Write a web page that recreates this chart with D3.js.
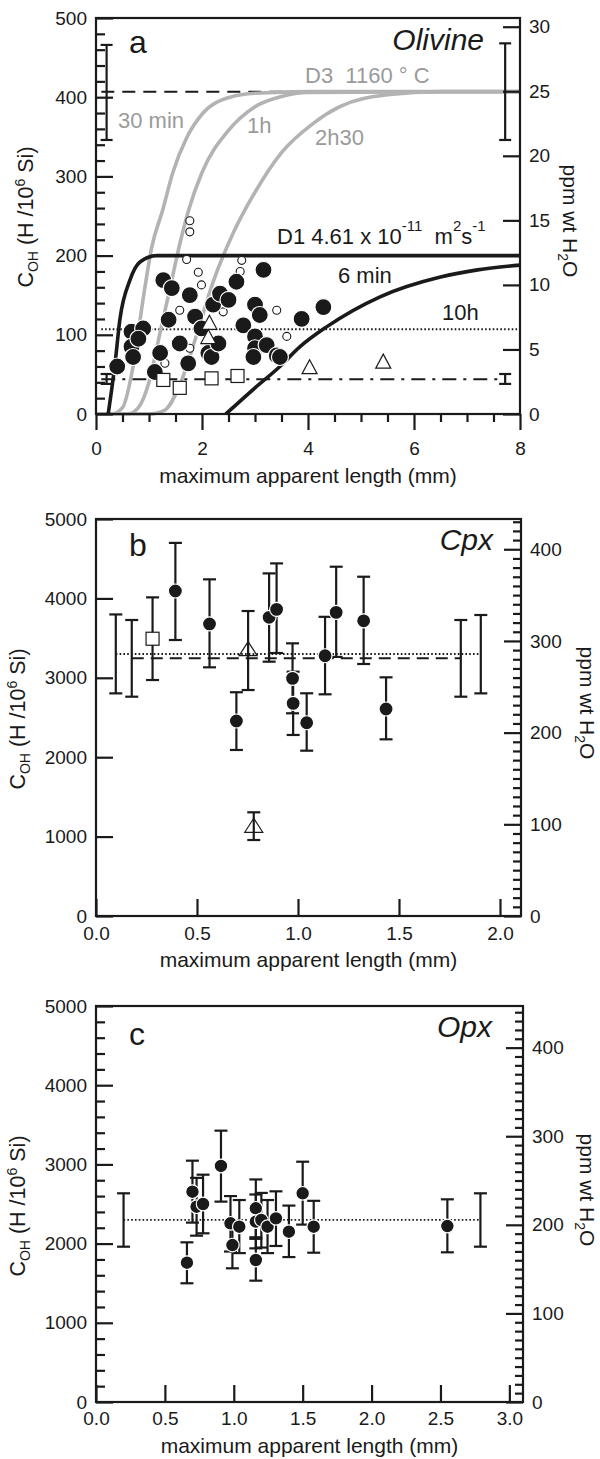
<!DOCTYPE html>
<html><head><meta charset="utf-8">
<script src="https://cdn.jsdelivr.net/npm/d3@7"></script>
<style>
body{margin:0;background:#fff}
svg text{font-family:"Liberation Sans",Arial,Helvetica,sans-serif;fill:#1a1a1a;white-space:pre}
</style>
</head><body>
<svg id="c" width="600" height="1459"></svg>
<script>
// ---------- DATA ----------
// Panel a (Olivine): [length mm, C_OH]
const olFilled = [[0.40,60],[0.67,104],[0.89,108],[0.67,85],[0.70,72],[0.80,95],
 [1.27,169],[1.43,159],[1.37,119],[1.21,77],[1.11,53],[1.77,150],[1.58,89],[1.74,64],
 [1.87,123],[1.99,108],[2.21,138],[2.34,152],[2.50,144],[2.65,167],[2.12,77],[2.18,72],
 [2.31,89],[2.78,112],[3.0,138],[3.16,182],[3.09,125],[3.0,98],[3.0,83],[3.22,87],
 [2.97,72],[3.41,74],[3.88,120],[4.29,135],[3.47,72]];
const olOpenSmall = [[1.77,244],[1.77,230],[1.71,195],[1.93,179],[1.99,163],[1.58,131],
 [2.40,129],[2.75,194],[2.72,180],[3.41,131],[3.6,98],[1.30,64],[1.77,83]];
const olTriangles = [[2.14,114],[2.12,96],[4.03,58],[5.42,65]];
const olSquares = [[1.27,43],[1.58,33],[2.18,45],[2.67,48]];
const curve30min = [[0,0],[0.3,0],[0.5,8],[0.7,60],[0.9,150],[1.05,210],[1.26,258],[1.45,305],[1.72,350],[2.02,380],[2.53,400],[3.0,405],[4,407],[8,407]];
const curve1h = [[0,0],[0.6,0],[0.8,8],[1.0,40],[1.2,100],[1.4,160],[1.6,220],[1.75,258],[2.0,305],[2.5,358],[3.0,388],[3.5,401],[4.0,406],[8,407]];
const curve2h30 = [[0,0],[1.0,0],[1.3,5],[1.6,40],[1.9,100],[2.2,165],[2.6,230],[3.0,280],[3.5,330],[4.1,367],[4.6,388],[5.5,403],[6.5,407],[8,407]];
const curve6min = [[0.23,0],[0.36,64],[0.45,119],[0.64,169],[0.83,192],[1.15,200],[8,200]];
const curve10h = [[2.45,0],[3.0,33],[3.47,60],[3.85,85],[4.35,110],[5.36,148],[6.5,173],[7.2,182],[8,188]];
const olDashedLevel = 407, olDottedLevel = 107, olDashDotLevel = 44;
const olBars = [[0.2,346,466],[7.72,346,468],[0.2,38,50.5],[7.72,38,50.5]];

// Panel b (Cpx): [length, C_OH, low, high]
const cpxFilled = [[0.393,4093,3476,4699],[0.562,3678,3132,4240],[0.695,2456,2091,2818],
 [0.857,3762,3203,4315],[0.894,3862,3312,4441],[0.973,2993,2553,3434],[0.976,2678,2280,3077],
 [1.043,2434,2082,2805],[1.134,3278,2792,3768],[1.189,3824,3263,4399],[1.325,3718,3174,4273],
 [1.436,2607,2225,3006]];
const cpxSquares = [[0.28,3492,2972,4013]];
const cpxTriangles = [[0.753,3350,2846,3841],[0.781,1125,957,1306]];
const cpxDotted = 3300, cpxDashed = 3245;
const cpxBars = [[0.098,2804,3798],[0.177,2762,3728],[1.806,2762,3728],[1.905,2804,3791]];

// Panel c (Opx)
const opxFilled = [[0.66,1759,1499,2016],[0.70,2655,2265,3047],[0.73,2466,2100,2830],
 [0.777,2500,2130,2870],[0.907,2980,2530,3426],[0.976,2256,1900,2600],[0.99,1982,1688,2280],
 [1.04,2213,1880,2550],[1.16,2446,2080,2810],[1.16,2277,1940,2620],[1.2,2298,1950,2640],
 [1.16,1793,1532,2060],[1.245,2213,1880,2550],[1.306,2319,1970,2660],[1.40,2150,1830,2480],
 [1.50,2635,2240,3034],[1.58,2213,1885,2540],[2.55,2222,1890,2559]];
const opxDotted = 2300;
const opxBars = [[0.2,1961,2635],[2.79,1961,2635]];

// Tick values
const aXTicks = [0,2,4,6,8], aYTicks = [0,100,200,300,400,500], aRTicks = [0,5,10,15,20,25,30];
const bXTicks = [0,0.5,1.0,1.5,2.0], bYTicks = [0,1000,2000,3000,4000,5000], bRTicks = [0,100,200,300,400];
const cXTicks = [0,0.5,1.0,1.5,2.0,2.5,3.0], cYTicks = [0,1000,2000,3000,4000,5000], cRTicks = [0,100,200,300,400];

// ---------- DRAW ----------
const svg = d3.select("#c");
const GRAY = "#b3b3b3", GRAYTXT = "#9a9a9a", BLK = "#1a1a1a";
const TICKFS = "19px";

function frame(x, y) {
  svg.append("rect").attr("x", x.range()[0]).attr("y", y.range()[1])
    .attr("width", x.range()[1]-x.range()[0]).attr("height", y.range()[0]-y.range()[1])
    .attr("fill","none").attr("stroke",BLK).attr("stroke-width",2.2);
}
function styleAxis(g){
  g.select(".domain").remove();
  g.selectAll(".tick line").attr("stroke",BLK).attr("stroke-width",2.2);
  g.selectAll(".tick text").style("font-size",TICKFS).attr("fill",BLK);
}
function axes(x, y, yR, o){
  const x0=x.range()[0], x1=x.range()[1], y0=y.range()[0];
  svg.append("g").attr("transform",`translate(${x0},0)`)
    .call(d3.axisLeft(y).tickValues(o.yTicks).tickSize(-17).tickPadding(9).tickSizeOuter(0).tickFormat(d3.format("d")))
    .call(styleAxis);
  if (o.yMinor) svg.append("g").attr("transform",`translate(${x0},0)`)
    .call(d3.axisLeft(y).tickValues(o.yMinor).tickSize(-9).tickFormat("")).call(styleAxis);
  svg.append("g").attr("transform",`translate(${x1},0)`)
    .call(d3.axisRight(yR).tickValues(o.rTicks).tickSize(-17).tickPadding(9).tickFormat(d3.format("d")))
    .call(styleAxis);
  if (o.rMinor) svg.append("g").attr("transform",`translate(${x1},0)`)
    .call(d3.axisRight(yR).tickValues(o.rMinor).tickSize(-8).tickFormat("")).call(styleAxis);
  svg.append("g").attr("transform",`translate(0,${y0})`)
    .call(d3.axisBottom(x).tickValues(o.xTicks).tickSize(o.xTickSize).tickPadding(o.xPad).tickFormat(o.xFmt))
    .call(styleAxis);
  if (o.xMinor) svg.append("g").attr("transform",`translate(0,${y0})`)
    .call(d3.axisBottom(x).tickValues(o.xMinor).tickSize(o.xMinorSize).tickFormat("")).call(styleAxis);
  frame(x,y);
}
function xTitle(x, yPos){
  svg.append("text").attr("x",(x.range()[0]+x.range()[1])/2).attr("y",yPos)
    .attr("text-anchor","middle").style("font-size","21px").text("maximum apparent length (mm)");
}
function yTitle(xPos, yPos){
  const t = svg.append("text").attr("transform",`translate(${xPos},${yPos}) rotate(-90)`)
    .attr("text-anchor","middle").style("font-size","21.5px");
  t.append("tspan").text("C");
  t.append("tspan").text("OH").style("font-size","14px").attr("dy",5);
  t.append("tspan").text(" (H /10").attr("dy",-5);
  t.append("tspan").text("6").style("font-size","14px").attr("dy",-8);
  t.append("tspan").text(" Si)").attr("dy",8);
}
function rTitle(xPos, yPos){
  const t = svg.append("text").attr("transform",`translate(${xPos},${yPos}) rotate(90)`)
    .attr("text-anchor","middle").style("font-size","21px");
  t.append("tspan").text("ppm wt H");
  t.append("tspan").text("2").style("font-size","14px").attr("dy",5);
  t.append("tspan").text("O").attr("dy",-5);
}
function hline(x, y, x0v, x1v, yv, dash, w){
  svg.append("line").attr("x1",x(x0v)).attr("x2",x(x1v)).attr("y1",y(yv)).attr("y2",y(yv))
    .attr("stroke",BLK).attr("stroke-width",w||2).attr("stroke-dasharray",dash);
}
function errBars(x, y, data, cap){
  const g = svg.append("g").attr("stroke",BLK).attr("stroke-width",2.2);
  data.forEach(d=>{
    const xv=d[0], lo=d[d.length-2], hi=d[d.length-1];
    g.append("line").attr("x1",x(xv)).attr("x2",x(xv)).attr("y1",y(lo)).attr("y2",y(hi));
    g.append("line").attr("x1",x(xv)-cap).attr("x2",x(xv)+cap).attr("y1",y(lo)).attr("y2",y(lo));
    g.append("line").attr("x1",x(xv)-cap).attr("x2",x(xv)+cap).attr("y1",y(hi)).attr("y2",y(hi));
  });
}
function filled(x,y,data,r){
  svg.append("g").selectAll("circle").data(data).join("circle")
    .attr("cx",d=>x(d[0])).attr("cy",d=>y(d[1])).attr("r",r)
    .attr("fill",BLK).attr("stroke","#fff").attr("stroke-width",1.2);
}
function openCircles(x,y,data,r){
  svg.append("g").selectAll("circle").data(data).join("circle")
    .attr("cx",d=>x(d[0])).attr("cy",d=>y(d[1])).attr("r",r)
    .attr("fill","#fff").attr("stroke",BLK).attr("stroke-width",1.1);
}
function triangles(x,y,data,w,h,fill){
  svg.append("g").selectAll("path").data(data).join("path")
    .attr("d",d=>{const cx=x(d[0]), cy=y(d[1]); return `M${cx},${cy-h*0.6}L${cx+w/2},${cy+h*0.4}L${cx-w/2},${cy+h*0.4}Z`;})
    .attr("fill",fill||"#fff").attr("stroke",BLK).attr("stroke-width",1.2);
}
function squares(x,y,data,s){
  svg.append("g").selectAll("rect").data(data).join("rect")
    .attr("x",d=>x(d[0])-s/2).attr("y",d=>y(d[1])-s/2).attr("width",s).attr("height",s)
    .attr("fill","#fff").attr("stroke",BLK).attr("stroke-width",1.2);
}
function label(xp, yp, txt, size, opts={}){
  const t = svg.append("text").attr("x",xp).attr("y",yp).style("font-size",size).text(txt);
  if (opts.italic) t.style("font-style","italic");
  if (opts.fill) t.attr("fill",opts.fill).style("fill",opts.fill);
  if (opts.anchor) t.attr("text-anchor",opts.anchor);
  return t;
}

// ===== Panel a =====
{
  const x = d3.scaleLinear().domain([0,8]).range([96,520]);
  const y = d3.scaleLinear().domain([0,500]).range([414,18]);
  const yR = d3.scaleLinear().domain([0,500/16.3]).range([414,18]);
  const line = d3.line().x(d=>x(d[0])).y(d=>y(d[1])).curve(d3.curveMonotoneX);

  hline(x,y,0.1,7.72,olDashedLevel,"13,8",2);
  hline(x,y,0.1,8,olDottedLevel,"1.6,2.2",1.8);
  hline(x,y,0.1,7.72,olDashDotLevel,"14,7,3,7",2);

  [curve30min,curve1h,curve2h30].forEach(c=>{
    svg.append("path").attr("d",line(c)).attr("fill","none").attr("stroke",GRAY).attr("stroke-width",3.6);
  });
  [curve6min,curve10h].forEach(c=>{
    svg.append("path").attr("d",line(c)).attr("fill","none").attr("stroke",BLK).attr("stroke-width",3.6);
  });
  errBars(x,y,olBars,6);
  openCircles(x,y,olOpenSmall,4);
  filled(x,y,olFilled,8.5);
  triangles(x,y,olTriangles,15,14);
  squares(x,y,olSquares,13);

  const minorY = d3.range(0,501,20).filter(v=>v%100!==0);
  const minorX = d3.range(0,8.01,0.5).filter(v=>v%2!==0);
  axes(x,y,yR,{yTicks:aYTicks,yMinor:minorY,rTicks:aRTicks,xTicks:aXTicks,xTickSize:16,xPad:12,
    xFmt:d3.format("d"),xMinor:minorX,xMinorSize:8});
  xTitle(x,483);
  yTitle(33,217);
  rTitle(563,221);

  label(129,53,"a","32px");
  label(484,50,"Olivine","30px",{italic:true,anchor:"end"});
  label(305,83,"D3  1160 ° C","22px",{fill:GRAYTXT});
  label(118,128,"30 min","22px",{fill:GRAYTXT});
  label(247,133,"1h","22px",{fill:GRAYTXT});
  label(315,145,"2h30","22px",{fill:GRAYTXT});
  const d1 = svg.append("text").attr("x",277).attr("y",244).style("font-size","22px");
  d1.append("tspan").text("D1 4.61 x 10");
  d1.append("tspan").text("-11").style("font-size","15px").attr("dy",-13);
  d1.append("tspan").text("  m").attr("dy",13);
  d1.append("tspan").text("2").style("font-size","15px").attr("dy",-13);
  d1.append("tspan").text("s").attr("dy",13);
  d1.append("tspan").text("-1").style("font-size","15px").attr("dy",-13);
  label(338,283,"6 min","22px");
  label(442,320,"10h","22px");
}

// ===== Panel b =====
{
  const x = d3.scaleLinear().domain([0,2.104]).range([96,521]);
  const y = d3.scaleLinear().domain([0,5000]).range([916,519]);
  const yR = d3.scaleLinear().domain([0,433]).range([916,519]);
  hline(x,y,0.098,1.905,cpxDotted,"1.6,2.2",1.8);
  hline(x,y,0.177,1.806,cpxDashed,"12,7",2);
  errBars(x,y,cpxBars,6.5);
  squares(x,y,cpxSquares,13);
  errBars(x,y,cpxFilled,6.5);
  errBars(x,y,cpxTriangles,6.5);
  triangles(x,y,cpxTriangles,18,14,"none");
  filled(x,y,cpxFilled,7);
  axes(x,y,yR,{yTicks:bYTicks,rTicks:bRTicks,rMinor:d3.range(0,431,10).filter(v=>v%100!==0),
    xTicks:bXTicks,xTickSize:-17,xPad:11,xFmt:d3.format(".1f")});
  // square bar drawn outside the box only
  {
    const g = svg.append("g").attr("stroke",BLK).attr("stroke-width",2.2);
    cpxSquares.forEach(d=>{
      const xv=x(d[0]), s=6.5;
      g.append("line").attr("x1",xv).attr("x2",xv).attr("y1",y(d[2])).attr("y2",y(d[1])+s);
      g.append("line").attr("x1",xv).attr("x2",xv).attr("y1",y(d[1])-s).attr("y2",y(d[3]));
      g.append("line").attr("x1",xv-6.5).attr("x2",xv+6.5).attr("y1",y(d[2])).attr("y2",y(d[2]));
      g.append("line").attr("x1",xv-6.5).attr("x2",xv+6.5).attr("y1",y(d[3])).attr("y2",y(d[3]));
    });
  }
  xTitle(x,967);
  yTitle(25,719);
  rTitle(580,703);
  label(129,556,"b","32px");
  label(493,550,"Cpx","30px",{italic:true,anchor:"end"});
}

// ===== Panel c =====
{
  const x = d3.scaleLinear().domain([0,3.099]).range([96,523]);
  const y = d3.scaleLinear().domain([0,5000]).range([1402,1006]);
  const yR = d3.scaleLinear().domain([0,447]).range([1402,1006]);
  hline(x,y,0.2,2.79,opxDotted,"1.6,2.2",1.8);
  errBars(x,y,opxBars,6.5);
  errBars(x,y,opxFilled,6.5);
  filled(x,y,opxFilled,6.8);
  axes(x,y,yR,{yTicks:cYTicks,yMinor:d3.range(0,5001,200).filter(v=>v%1000!==0),
    rTicks:cRTicks,rMinor:d3.range(0,441,10).filter(v=>v%100!==0),
    xTicks:cXTicks,xTickSize:-17,xPad:10,xFmt:d3.format(".1f")});
  xTitle(x,1453);
  yTitle(25,1206);
  rTitle(580,1190);
  label(129,1045,"c","32px");
  label(492,1037,"Opx","30px",{italic:true,anchor:"end"});
}
</script>
</body></html>
